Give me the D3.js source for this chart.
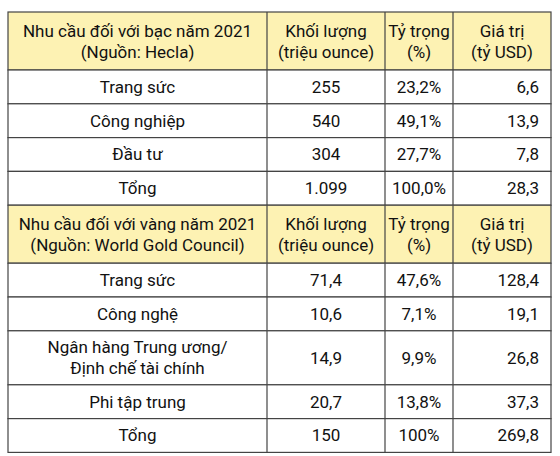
<!DOCTYPE html>
<html><head><meta charset="utf-8">
<script src="https://cdn.jsdelivr.net/npm/d3@7"></script>
<style>body{margin:0;background:#fff}</style></head>
<body><div id="container"></div>
<script>
/* DATA */
const columns = ["Khối lượng|(triệu ounce)", "Tỷ trọng|(%)", "Giá trị|(tỷ USD)"];
const silverTitle = "Nhu cầu đối với bạc năm 2021|(Nguồn: Hecla)";
const silverCats = ["Trang sức", "Công nghiệp", "Đầu tư", "Tổng"];
const silverVolume = ["255", "540", "304", "1.099"];
const silverShare = ["23,2%", "49,1%", "27,7%", "100,0%"];
const silverValue = ["6,6", "13,9", "7,8", "28,3"];
const goldTitle = "Nhu cầu đối với vàng năm 2021|(Nguồn: World Gold Council)";
const goldCats = ["Trang sức", "Công nghệ", "Ngân hàng Trung ương/|Định chế tài chính", "Phi tập trung", "Tổng"];
const goldVolume = ["71,4", "10,6", "14,9", "20,7", "150"];
const goldShare = ["47,6%", "7,1%", "9,9%", "13,8%", "100%"];
const goldValue = ["128,4", "19,1", "26,8", "37,3", "269,8"];

/* LAYOUT */
const width = 560, height = 456;
const colX = [8, 267, 385, 453, 551];
const svg = d3.select("#container").append("svg").attr("width", width).attr("height", height)
  .style("font-family", "Roboto, sans-serif").style("font-size", "17px");

const rows = [];
function addBlock(title, cats, vol, share, val) {
  rows.push({ header: true, cells: [title, ...columns], h: 58 });
  cats.forEach((c, i) => rows.push({ header: false, cells: [c, vol[i], share[i], val[i]],
    h: c.includes("|") ? 54 : 33.8 }));
}
addBlock(silverTitle, silverCats, silverVolume, silverShare, silverValue);
addBlock(goldTitle, goldCats, goldVolume, goldShare, goldValue);

let y = 12;
rows.forEach(r => { r.y = y; y += r.h; });

const g = svg.selectAll("g.row").data(rows).enter().append("g").attr("transform", d => `translate(0,${d.y})`);
g.append("rect").attr("x", colX[0]).attr("width", colX[4] - colX[0]).attr("height", d => d.h)
  .attr("fill", d => d.header ? "#fdf2b3" : "#fff").attr("stroke", "#444").attr("stroke-width", 1.2);
g.each(function (r) {
  const row = d3.select(this);
  colX.slice(1, 4).forEach(x => row.append("line").attr("x1", x).attr("x2", x).attr("y2", r.h)
    .attr("stroke", "#444").attr("stroke-width", 1.2));
  r.cells.forEach((txt, ci) => {
    const lines = txt.split("|");
    const right = !r.header && ci === 3;
    const tx = right ? colX[4] - 12 : (colX[ci] + colX[ci + 1]) / 2;
    const t = row.append("text").attr("text-anchor", right ? "end" : "middle").attr("fill", "#111");
    lines.forEach((l, li) => t.append("tspan").attr("x", tx)
      .attr("y", r.h / 2 + (li - (lines.length - 1) / 2) * 21 + 6).text(l));
  });
});
</script></body></html>
